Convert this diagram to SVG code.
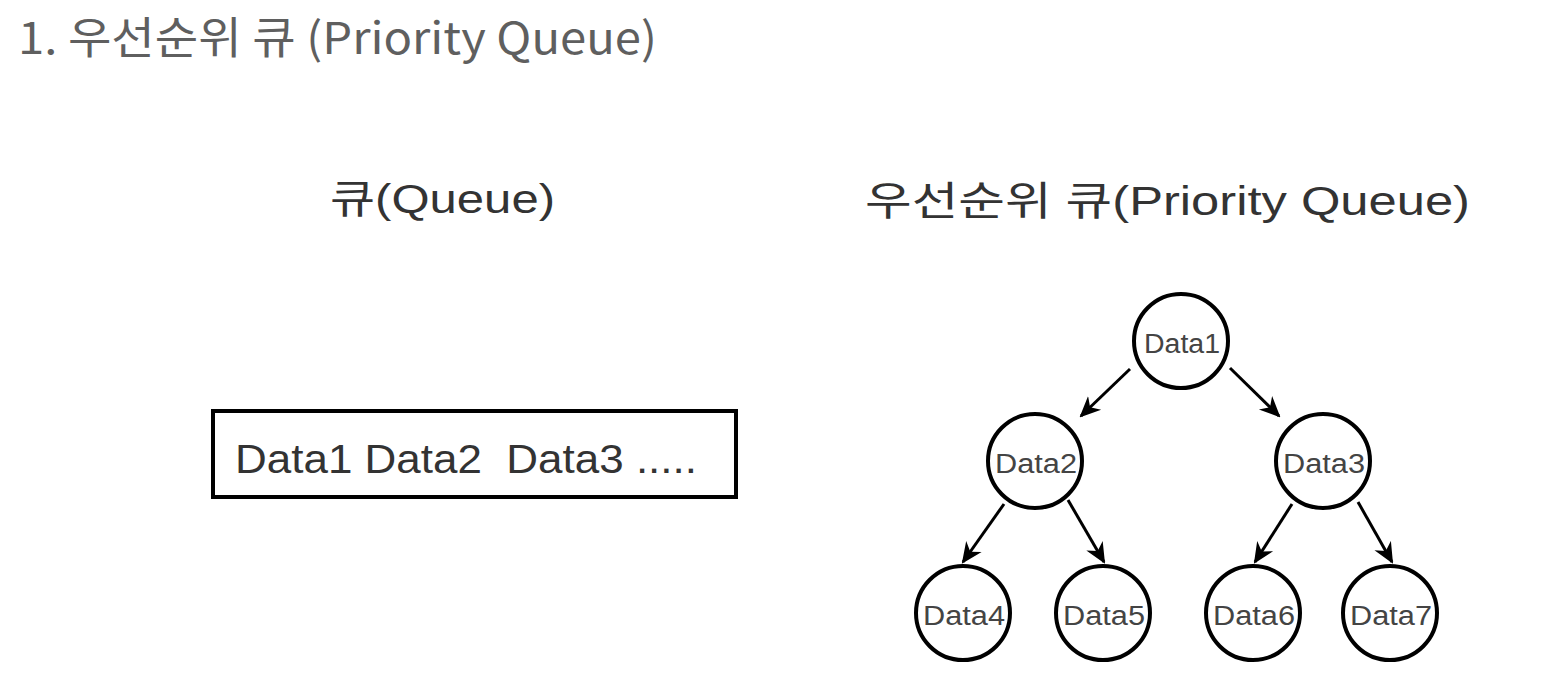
<svg xmlns="http://www.w3.org/2000/svg" width="1554" height="690" viewBox="0 0 1554 690">
<style>
.title{font-family:"Noto Sans CJK KR","Noto Sans",sans-serif;font-size:44px;fill:#5f5f5f}
.head{font-family:"Liberation Sans","Noto Sans CJK KR",sans-serif;font-size:40px;fill:#333}
.box{font-family:"Liberation Sans","Noto Sans CJK KR",sans-serif;font-size:41px;fill:#333;white-space:pre}
.lbl{font-family:"Liberation Sans",sans-serif;font-size:27px;fill:#444;text-anchor:middle}
.node circle{fill:#fff;stroke:#000;stroke-width:4}
.edge{stroke:#000;stroke-width:3;fill:none;marker-end:url(#arr)}
</style>
<defs>
<marker id="arr" viewBox="0 0 10 10" refX="9" refY="5" markerWidth="7" markerHeight="7" orient="auto" markerUnits="strokeWidth">
<path d="M0,0.5 L10,5 L0,9.5 L3,5 z" fill="#000"/>
</marker>
</defs>
<rect width="1554" height="690" fill="#fff"/>
<text class="title" x="18" y="54" textLength="639" lengthAdjust="spacingAndGlyphs">1. 우선순위 큐 (Priority Queue)</text>
<text class="head" x="330" y="213" textLength="225" lengthAdjust="spacingAndGlyphs">큐(Queue)</text>
<text class="head" x="865" y="215" textLength="605" lengthAdjust="spacingAndGlyphs">우선순위 큐(Priority Queue)</text>
<g id="queue">
<rect x="213" y="411" width="523" height="86" fill="#fff" stroke="#000" stroke-width="4"/>
<text class="box" x="235" y="473" textLength="462" lengthAdjust="spacingAndGlyphs">Data1 Data2  Data3 .....</text>
</g>
<g id="edges">
<line class="edge" x1="1130" y1="369" x2="1081" y2="416"/>
<line class="edge" x1="1230" y1="368" x2="1279" y2="416"/>
<line class="edge" x1="1004" y1="504" x2="963" y2="562"/>
<line class="edge" x1="1068" y1="500" x2="1104" y2="562"/>
<line class="edge" x1="1292" y1="504" x2="1255" y2="562"/>
<line class="edge" x1="1358" y1="502" x2="1392" y2="562"/>
</g>
<g id="n1" class="node"><circle cx="1181" cy="341" r="47"/><text class="lbl" x="1182" y="353" textLength="76" lengthAdjust="spacingAndGlyphs">Data1</text></g>
<g id="n2" class="node"><circle cx="1035" cy="461" r="47"/><text class="lbl" x="1036" y="473" textLength="82" lengthAdjust="spacingAndGlyphs">Data2</text></g>
<g id="n3" class="node"><circle cx="1323" cy="461" r="47"/><text class="lbl" x="1324" y="473" textLength="82" lengthAdjust="spacingAndGlyphs">Data3</text></g>
<g id="n4" class="node"><circle cx="963" cy="613" r="47"/><text class="lbl" x="964" y="625" textLength="82" lengthAdjust="spacingAndGlyphs">Data4</text></g>
<g id="n5" class="node"><circle cx="1103" cy="613" r="47"/><text class="lbl" x="1104" y="625" textLength="82" lengthAdjust="spacingAndGlyphs">Data5</text></g>
<g id="n6" class="node"><circle cx="1253" cy="613" r="47"/><text class="lbl" x="1254" y="625" textLength="82" lengthAdjust="spacingAndGlyphs">Data6</text></g>
<g id="n7" class="node"><circle cx="1390" cy="613" r="47"/><text class="lbl" x="1391" y="625" textLength="82" lengthAdjust="spacingAndGlyphs">Data7</text></g>
</svg>
